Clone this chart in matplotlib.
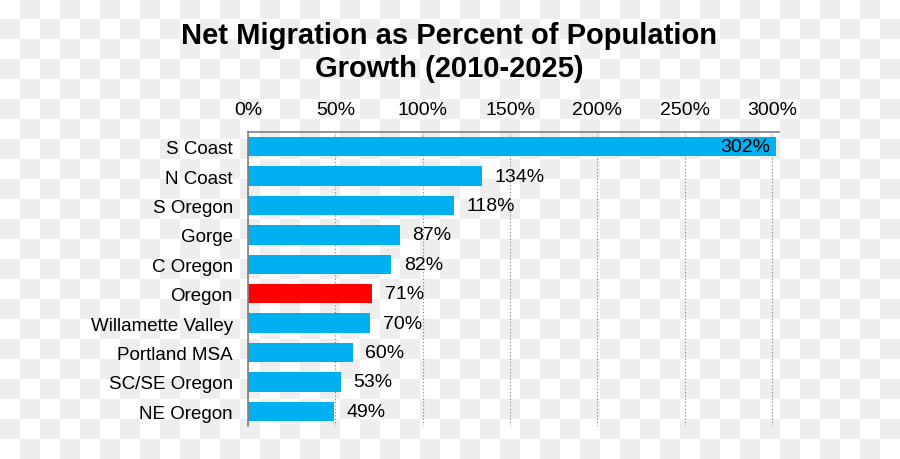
import matplotlib.pyplot as plt
import numpy as np

plt.rcParams['font.family'] = ['Liberation Sans', 'DejaVu Sans']

# data
regions = ['S Coast', 'N Coast', 'S Oregon', 'Gorge', 'C Oregon', 'Oregon',
           'Willamette Valley', 'Portland MSA', 'SC/SE Oregon', 'NE Oregon']
net_migration_pct = [302, 134, 118, 87, 82, 71, 70, 60, 53, 49]
xtick_vals = [0, 50, 100, 150, 200, 250, 300]

blue = '#00b0f0'
red = '#ff0000'
colors = [red if r == 'Oregon' else blue for r in regions]

fig = plt.figure(figsize=(9, 4.6), dpi=100)

# checkerboard background (transparent-png look)
yy, xx = np.mgrid[0:460, 0:900]
checker = ((xx // 20 + yy // 20) % 2).astype(float)
bg = np.where(checker == 1, 0.93, 1.0)
fig.figimage(bg, cmap='gray', vmin=0, vmax=1, zorder=-1)
fig.patch.set_alpha(0)

ax = fig.add_axes([0.2756, 0.0717, 0.59, 0.6391])
ax.patch.set_alpha(0)

pos = np.arange(len(regions))
ax.barh(pos, net_migration_pct, height=0.66, color=colors, zorder=2)

ax.set_xlim(0, 304)
ax.set_ylim(len(regions) - 0.5, -0.5)
ax.set_yticks(pos)
ax.set_yticklabels(regions, fontsize=13.5)
ax.set_xticks(xtick_vals)
ax.set_xticklabels([f'{v}%' for v in xtick_vals], fontsize=14)
ax.xaxis.tick_top()
ax.tick_params(axis='y', length=0, pad=11)
ax.tick_params(axis='x', length=0, pad=10)

ax.grid(axis='x', linestyle=(0, (1, 2)), color='#808080', linewidth=0.8, zorder=1)
ax.set_axisbelow(True)

for s in ['bottom', 'right']:
    ax.spines[s].set_visible(False)
for s in ['top', 'left']:
    ax.spines[s].set_color('#808080')
    ax.spines[s].set_linewidth(1.2)

for p, v in zip(pos, net_migration_pct):
    if v > 250:
        ax.annotate(f'{v}%', (v, p), xytext=(-4, 0), textcoords='offset points',
                    ha='right', va='center', fontsize=14, zorder=3)
    else:
        ax.annotate(f'{v}%', (v, p), xytext=(9, 0), textcoords='offset points',
                    ha='left', va='center', fontsize=14, zorder=3)

fig.text(0.499, 0.886, 'Net Migration as Percent of Population\nGrowth (2010-2025)',
         ha='center', va='center', fontsize=21, fontweight='bold', linespacing=1.2)

fig.savefig('out.png', dpi=100)
